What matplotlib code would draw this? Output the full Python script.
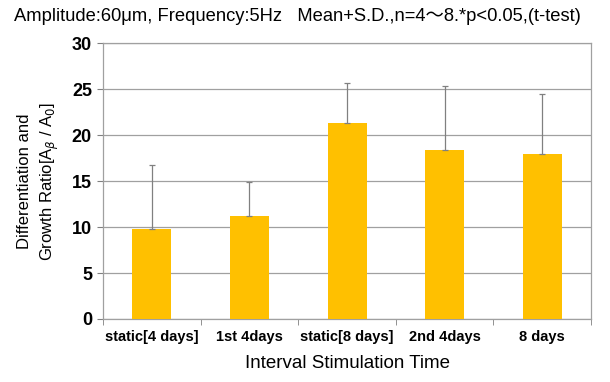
import matplotlib.pyplot as plt
import numpy as np

plt.rcParams['font.family'] = ['Liberation Sans', 'Noto Sans CJK JP', 'DejaVu Sans']

categories = ['static[4 days]', '1st 4days', 'static[8 days]', '2nd 4days', '8 days']
means = [9.8, 11.2, 21.3, 18.4, 17.9]
sds = [7.0, 3.7, 4.4, 6.9, 6.6]

fig = plt.figure(figsize=(6.1, 3.82), dpi=100)
ax = fig.add_axes([0.169, 0.165, 0.8, 0.722])

x = np.arange(len(categories))
ax.bar(x, means, width=0.4, color='#FFC000', zorder=3)
ax.errorbar(x, means, yerr=[np.zeros(len(sds)), sds], fmt='none',
            ecolor='#808080', elinewidth=0.9, capsize=2, capthick=0.9, zorder=4)

ax.set_xlim(-0.5, len(categories) - 0.5)
ax.set_ylim(0, 30)
ax.set_yticks(np.arange(0, 31, 5))
ax.yaxis.grid(True, color='#a0a0a0', linewidth=0.9, zorder=0)
ax.set_axisbelow(True)

ax.set_xticks(x)
ax.set_xticklabels(categories, fontsize=10.5, fontweight='bold')
ax.set_xticks(np.arange(-0.5, len(categories)), minor=True)
ax.tick_params(axis='x', which='major', length=0, pad=8)
ax.tick_params(axis='x', which='minor', length=4, color='#808080', direction='out')
ax.tick_params(axis='y', length=4, color='#808080', labelsize=13, pad=4)
for lab in ax.get_yticklabels():
    lab.set_fontweight('bold')

for s in ax.spines.values():
    s.set_color('#a0a0a0')
    s.set_linewidth(0.9)

ax.set_xlabel('Interval Stimulation Time', fontsize=13.5, labelpad=8)
ax.set_ylabel('Differentiation and\nGrowth Ratio[A$_\\beta$ / A$_0$]', fontsize=12,
              labelpad=8, linespacing=1.45)

fig.text(0.023, 0.958, 'Amplitude:60μm, Frequency:5Hz   Mean+S.D.,n=4〜8.*p<0.05,(t-test)',
         fontsize=13.2, va='center', ha='left')

fig.savefig('out.png', dpi=100)
